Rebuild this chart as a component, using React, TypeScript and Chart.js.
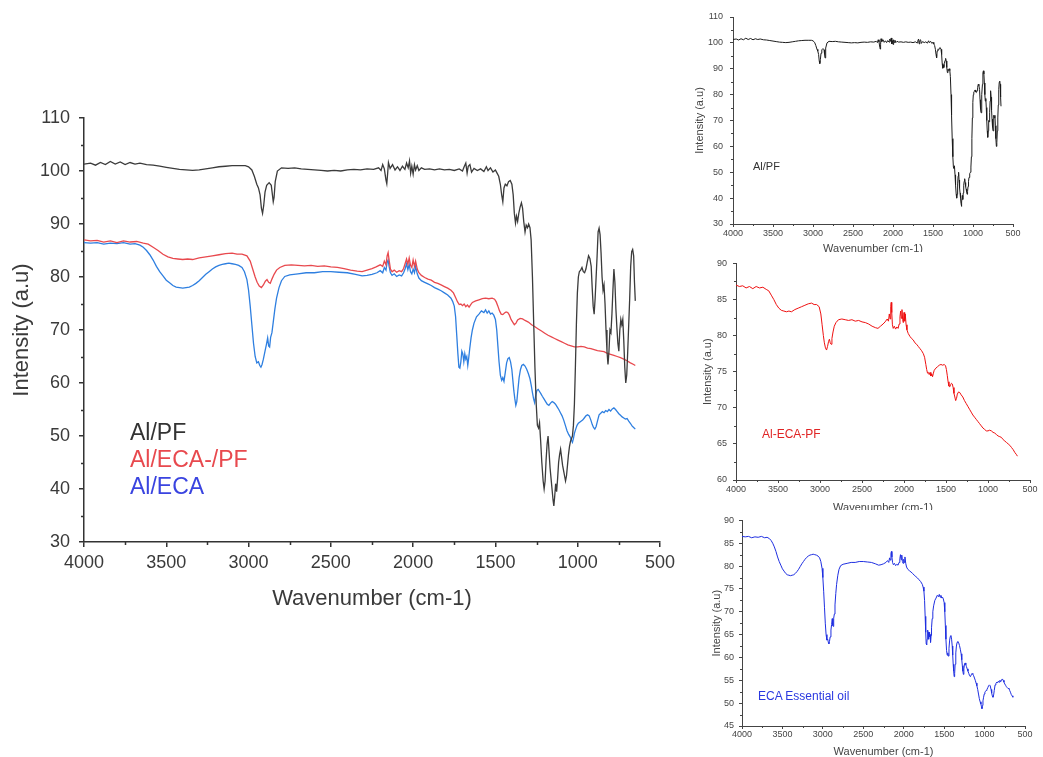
import React, { useEffect, useRef } from 'react';
import { Chart, registerables } from 'chart.js';
Chart.register(...registerables);

// ---------------- DATA ----------------
// [wavenumber (cm-1), intensity (a.u)]
const alPF: [number, number][] = [
  [4000,101.3],[3960,101.5],[3930,101.1],[3900,101.6],[3870,101.2],[3840,101.8],[3810,101.3],[3780,101.7],[3750,101.2],[3720,101.6],[3690,101.3],[3660,101.5],[3620,101.2],[3580,101.1],[3540,100.9],[3500,100.7],[3460,100.5],[3420,100.3],[3380,100.2],[3340,100.1],[3300,100.2],[3260,100.4],[3220,100.6],[3180,100.8],[3140,100.9],[3100,101.0],[3060,101.0],[3020,101.0],[3000,100.8],[2980,100.2],[2965,99],[2950,97.5],[2940,96.8],[2930,95.5],[2922,93],[2915,92],[2908,93.5],[2900,96],[2890,97.3],[2875,97.8],[2862,97.3],[2855,95.5],[2850,94.2],[2845,95],[2838,98],[2825,100],[2800,100.6],[2760,100.5],[2720,100.6],[2680,100.4],[2640,100.3],[2600,100.2],[2560,100.1],[2520,100.0],[2480,100.1],[2440,100.0],[2400,100.2],[2360,100.3],[2320,100.2],[2280,100.4],[2240,100.3],[2210,100.6],[2195,100.1],[2185,101.2],[2175,100.4],[2165,98.3],[2160,97.6],[2155,99.5],[2150,101.6],[2140,100.5],[2125,101.2],[2110,100.2],[2095,100.8],[2080,100.1],[2065,100.9],[2050,100.3],[2040,101.5],[2030,100.6],[2022,101.9],[2015,99.6],[2008,100.9],[2000,99.4],[1992,101.2],[1985,100.2],[1975,101],[1965,100.1],[1950,100.6],[1930,100.3],[1900,100.4],[1870,100.2],[1840,100.4],[1810,100.2],[1780,100.3],[1750,100.1],[1720,100.4],[1700,100.0],[1690,100.8],[1680,101.5],[1672,99.6],[1665,100.9],[1655,101.2],[1645,99.8],[1630,100.5],[1610,100.1],[1590,100.4],[1570,99.9],[1555,100.8],[1545,100.1],[1530,100.6],[1515,99.8],[1500,100.2],[1490,99.6],[1480,99.0],[1470,97.5],[1462,95.5],[1455,94.2],[1448,96.8],[1440,97.5],[1430,97.2],[1420,98.0],[1410,98.2],[1400,97.5],[1392,95.5],[1385,92],[1378,90.2],[1372,91.5],[1365,90.5],[1358,92],[1350,93.2],[1342,94],[1335,93],[1328,90.5],[1320,88.5],[1313,89.8],[1305,89.3],[1298,90],[1290,89.3],[1283,87],[1275,80],[1268,72],[1260,63],[1252,56],[1245,52],[1238,51.5],[1232,52.5],[1225,49],[1218,45],[1210,41.5],[1204,40],[1198,41.5],[1192,45.5],[1186,48.5],[1180,50],[1174,47],[1168,44],[1162,42],[1156,40],[1150,38],[1145,36.8],[1140,38.5],[1134,41],[1128,39.5],[1122,42],[1116,45],[1110,46.5],[1104,47.5],[1098,46],[1092,44.5],[1086,43.5],[1080,42.5],[1074,41.5],[1068,42.5],[1062,44.5],[1056,46.5],[1050,48],[1044,49],[1038,49.5],[1032,50],[1026,52],[1020,56],[1014,63],[1008,71],[1002,77],[996,80],[990,81],[982,81.3],[974,81.8],[966,81],[958,80.8],[950,81.5],[942,82.8],[934,84],[926,83.5],[918,82],[912,78],[906,74.5],[900,73],[894,76],[888,80],[882,84],[876,88.5],[870,89.2],[864,88],[858,84.5],[852,80],[846,77.5],[840,78.5],[834,75],[828,70],[822,66],[816,63.5],[810,66],[804,70],[798,69.5],[792,73],[786,77.5],[780,81.5],[774,79],[768,74],[762,70.5],[756,67.5],[750,66],[744,70],[738,72],[732,71],[726,72],[720,68],[714,63],[708,60],[702,61.5],[696,66],[690,71],[684,76],[678,82],[672,84.8],[666,85.2],[660,84],[655,79],[650,75.5]
];

const alEcaPF: [number, number][] = [
  [4000,87.0],[3960,86.8],[3920,86.9],[3880,86.6],[3840,86.8],[3800,86.5],[3760,86.8],[3720,86.6],[3680,86.7],[3640,86.4],[3610,86.2],[3580,85.6],[3550,85.0],[3520,84.3],[3490,83.8],[3460,83.5],[3430,83.4],[3400,83.3],[3370,83.4],[3340,83.3],[3300,83.6],[3260,83.8],[3220,84.0],[3180,84.2],[3140,84.4],[3100,84.5],[3070,84.3],[3040,84.3],[3010,84.0],[2990,83.0],[2975,81.5],[2960,80.0],[2948,79.0],[2935,78.3],[2922,78.0],[2910,78.5],[2898,79.2],[2888,79.5],[2878,79.0],[2868,78.8],[2858,79.6],[2845,80.5],[2830,81.3],[2810,81.8],[2780,82.2],[2740,82.3],[2700,82.2],[2660,82.1],[2620,82.2],[2580,82.0],[2540,82.1],[2500,81.9],[2460,81.8],[2420,81.6],[2380,81.3],[2340,81.1],[2310,81.0],[2280,81.3],[2250,81.6],[2225,81.9],[2200,82.3],[2185,82.0],[2175,83.0],[2165,82.3],[2158,84.0],[2152,84.6],[2146,83.2],[2138,81.5],[2128,81.0],[2115,81.3],[2100,80.9],[2085,81.2],[2070,81.0],[2058,81.6],[2048,82.6],[2040,83.4],[2032,82.4],[2024,83.6],[2016,82.2],[2008,81.8],[2000,83.2],[1992,82.0],[1985,83.0],[1975,81.5],[1965,80.8],[1950,80.3],[1930,79.9],[1910,79.6],[1890,79.4],[1870,79.0],[1850,78.8],[1830,78.5],[1810,78.2],[1790,77.9],[1770,77.5],[1755,77.0],[1740,76.0],[1730,75.3],[1720,74.8],[1710,74.9],[1700,74.6],[1690,74.9],[1680,74.4],[1670,74.7],[1660,74.3],[1650,74.8],[1640,75.2],[1620,75.5],[1600,75.7],[1580,75.9],[1560,76.0],[1540,75.9],[1520,76.0],[1505,75.8],[1495,75.3],[1485,74.5],[1475,73.6],[1465,73.0],[1455,72.9],[1445,73.2],[1435,73.4],[1425,73.3],[1415,72.8],[1405,72.0],[1395,71.5],[1385,71.0],[1375,71.3],[1365,71.9],[1350,72.2],[1335,72.1],[1320,71.8],[1300,71.5],[1280,71.0],[1260,70.6],[1240,70.2],[1220,69.8],[1200,69.4],[1180,69.0],[1160,68.7],[1140,68.4],[1120,68.1],[1100,67.8],[1080,67.5],[1060,67.2],[1040,67.0],[1020,66.8],[1000,66.8],[980,66.9],[960,66.8],[940,66.6],[920,66.5],[900,66.3],[880,66.1],[860,66.0],[840,65.9],[820,65.6],[800,65.4],[780,65.2],[760,65.0],[740,64.8],[720,64.5],[700,64.2],[680,63.8],[660,63.5],[650,63.3]
];

const alEca: [number, number][] = [
  [4000,86.5],[3960,86.4],[3920,86.5],[3880,86.2],[3840,86.4],[3800,86.3],[3760,86.5],[3720,86.2],[3690,86.3],[3660,86.0],[3640,85.6],[3620,85.0],[3600,84.2],[3580,83.2],[3560,82.0],[3540,81.0],[3520,80.2],[3500,79.4],[3480,78.9],[3460,78.4],[3440,78.1],[3420,78.0],[3400,77.9],[3380,78.0],[3360,78.1],[3340,78.4],[3320,78.8],[3300,79.3],[3280,79.9],[3260,80.5],[3240,81.0],[3220,81.5],[3200,81.9],[3180,82.2],[3160,82.4],[3140,82.5],[3120,82.6],[3100,82.5],[3080,82.4],[3060,82.2],[3040,81.8],[3025,81.0],[3010,79.5],[3000,77.5],[2990,74.5],[2980,71.0],[2970,67.5],[2960,65.0],[2950,63.8],[2940,64.0],[2932,63.3],[2925,63.0],[2918,63.5],[2910,64.5],[2900,66.0],[2892,67.2],[2884,68.5],[2878,67.0],[2872,66.8],[2866,68.6],[2858,69.5],[2850,71.5],[2840,74.0],[2830,76.0],[2815,78.0],[2800,79.3],[2780,80.1],[2750,80.4],[2700,80.6],[2650,80.8],[2600,80.8],[2550,81.0],[2500,81.0],[2450,80.9],[2400,80.8],[2350,80.5],[2310,80.2],[2280,80.3],[2250,80.5],[2220,80.8],[2200,81.2],[2185,80.8],[2175,81.8],[2165,81.3],[2158,82.8],[2152,83.2],[2146,82.0],[2138,80.8],[2128,80.3],[2115,80.6],[2100,80.1],[2085,80.4],[2070,80.2],[2058,80.8],[2048,81.6],[2040,82.5],[2032,81.4],[2024,82.4],[2016,81.0],[2008,80.6],[2000,81.5],[1992,80.8],[1985,82.0],[1975,80.6],[1965,79.8],[1950,79.3],[1930,79.0],[1910,78.7],[1890,78.4],[1870,78.0],[1850,77.7],[1830,77.4],[1810,77.0],[1790,76.6],[1770,76.0],[1760,75.4],[1750,74.5],[1742,72.5],[1735,69.0],[1728,65.5],[1722,63.0],[1716,62.8],[1710,64.0],[1704,66.0],[1698,65.5],[1692,64.0],[1686,65.5],[1680,64.5],[1674,65.0],[1668,63.3],[1662,64.8],[1656,66.5],[1648,68.5],[1640,70.0],[1630,71.3],[1615,72.5],[1600,73.0],[1585,73.6],[1570,73.3],[1560,73.8],[1550,73.2],[1540,73.6],[1530,73.0],[1520,73.2],[1510,72.8],[1500,72.0],[1492,70.0],[1485,67.0],[1478,64.0],[1470,61.5],[1462,60.5],[1455,61.0],[1448,60.3],[1440,62.0],[1432,63.8],[1424,64.6],[1416,64.8],[1408,64.0],[1400,62.5],[1394,60.5],[1388,58.5],[1382,57.0],[1376,55.8],[1370,56.5],[1364,58.5],[1356,61.0],[1348,62.5],[1340,63.3],[1330,63.5],[1320,63.2],[1310,62.6],[1300,61.8],[1290,60.8],[1282,59.5],[1275,58.2],[1268,57.0],[1262,56.3],[1256,57.5],[1248,58.6],[1240,58.8],[1232,58.4],[1224,58.0],[1215,57.5],[1205,57.0],[1195,56.5],[1185,56.0],[1175,55.8],[1165,56.2],[1155,56.5],[1145,56.3],[1135,56.0],[1125,55.5],[1115,55.0],[1105,54.4],[1095,53.8],[1085,53.0],[1075,52.0],[1065,51.0],[1055,50.3],[1045,49.8],[1038,49.2],[1032,48.8],[1026,49.5],[1020,50.5],[1012,51.3],[1004,52.0],[996,52.4],[988,52.6],[980,52.8],[970,53.0],[960,53.4],[950,53.8],[940,54.0],[930,53.8],[920,53.0],[912,52.2],[904,51.6],[896,51.3],[888,51.8],[880,52.8],[870,54.0],[860,54.3],[850,54.6],[840,54.4],[830,54.8],[820,54.6],[810,55.0],[800,54.7],[790,55.1],[780,55.3],[770,55.0],[760,54.6],[750,54.2],[740,53.9],[730,53.6],[720,53.4],[710,53.2],[700,53.3],[690,52.8],[680,52.4],[670,51.9],[660,51.6],[650,51.3]
];

const xTickValues = [4000, 3500, 3000, 2500, 2000, 1500, 1000, 500];
const yTicksPF = [30, 40, 50, 60, 70, 80, 90, 100, 110];
const yTicksEcaPF = [60, 65, 70, 75, 80, 85, 90];
const yTicksEca = [45, 50, 55, 60, 65, 70, 75, 80, 85, 90];

const xTitle = 'Wavenumber (cm-1)';
const yTitle = 'Intensity (a.u)';
const legendLabels = ['Al/PF', 'Al/ECA-/PF', 'Al/ECA'];
const insetLabels = ['Al/PF', 'Al-ECA-PF', 'ECA Essential oil'];

// ---------------- HELPERS ----------------
const FONT = '"Liberation Sans", Arial, Helvetica, sans-serif';

const mids = (arr: number[]) => {
  const out: number[] = [];
  for (let i = 0; i < arr.length - 1; i++) out.push((arr[i] + arr[i + 1]) / 2);
  return out;
};

const minorTickPlugin = {
  id: 'minorTicks',
  afterDraw(chart: any, _args: any, opts: any) {
    const { ctx } = chart;
    const xs = chart.scales.x;
    const ys = chart.scales.y;
    ctx.save();
    ctx.strokeStyle = opts.color;
    ctx.lineWidth = opts.width;
    ctx.beginPath();
    for (const v of opts.xMinor) {
      const px = Math.round(xs.getPixelForValue(v)) + 0.5;
      ctx.moveTo(px, ys.bottom);
      ctx.lineTo(px, ys.bottom + opts.len);
    }
    for (const v of opts.yMinor) {
      const py = Math.round(ys.getPixelForValue(v)) + 0.5;
      ctx.moveTo(xs.left, py);
      ctx.lineTo(xs.left - opts.len, py);
    }
    ctx.stroke();
    ctx.restore();
  },
};

interface Panel {
  left: number; top: number; width: number; height: number;
  padTop: number; padRight: number; yWidth: number; xHeight: number;
  yMin: number; yMax: number; yTicks: number[];
  series: { data: [number, number][]; color: string }[];
  lineWidth: number; axisColor: string; axisWidth: number;
  tickSize: number; tickColor: string; titleSize: number;
  majorLen: number; minorLen: number;
  xTickPad: number; yTickPad: number; xTitlePad: number; yTitlePad: number;
  bg: string;
}

const panels: Panel[] = [
  {
    left: 0, top: 0, width: 680, height: 620,
    padTop: 118, padRight: 18, yWidth: 84, xHeight: 78,
    yMin: 30, yMax: 110, yTicks: yTicksPF,
    series: [
      { data: alPF, color: '#3b3b3b' },
      { data: alEcaPF, color: '#e8494e' },
      { data: alEca, color: '#2e7fe0' },
    ],
    lineWidth: 1.3, axisColor: '#333', axisWidth: 1.5,
    tickSize: 18, tickColor: '#3a3a3a', titleSize: 22,
    majorLen: 5, minorLen: 3,
    xTickPad: 5, yTickPad: 9, xTitlePad: 8, yTitlePad: 9,
    bg: 'transparent',
  },
  {
    left: 680, top: 0, width: 363, height: 256,
    padTop: 17, padRight: 30, yWidth: 53, xHeight: 32,
    yMin: 30, yMax: 110, yTicks: yTicksPF,
    series: [{ data: alPF, color: '#1c1c1c' }],
    lineWidth: 1, axisColor: '#444', axisWidth: 1,
    tickSize: 9, tickColor: '#444', titleSize: 11,
    majorLen: 3, minorLen: 2,
    xTickPad: 1, yTickPad: 7, xTitlePad: 0.4, yTitlePad: 13.4,
    bg: 'transparent',
  },
  {
    left: 680, top: 252, width: 363, height: 263,
    padTop: 10, padRight: 13, yWidth: 56, xHeight: 35,
    yMin: 60, yMax: 90, yTicks: yTicksEcaPF,
    series: [{ data: alEcaPF, color: '#ee1111' }],
    lineWidth: 1, axisColor: '#444', axisWidth: 1,
    tickSize: 9, tickColor: '#444', titleSize: 11,
    majorLen: 3, minorLen: 2,
    xTickPad: 1.6, yTickPad: 6, xTitlePad: 0.4, yTitlePad: 21.4,
    bg: '#ffffff',
  },
  {
    left: 680, top: 510, width: 363, height: 247,
    padTop: 7, padRight: 18, yWidth: 62, xHeight: 31,
    yMin: 45, yMax: 90, yTicks: yTicksEca,
    series: [{ data: alEca, color: '#1f2fe0' }],
    lineWidth: 1, axisColor: '#444', axisWidth: 1,
    tickSize: 9, tickColor: '#444', titleSize: 11,
    majorLen: 3, minorLen: 2,
    xTickPad: 0.6, yTickPad: 5, xTitlePad: -1.5, yTitlePad: 30.4,
    bg: '#ffffff',
  },
];

function buildChart(canvas: HTMLCanvasElement, p: Panel) {
  return new Chart(canvas, {
    type: 'line',
    data: {
      datasets: p.series.map((s) => ({
        data: s.data.map(([x, y]) => ({ x, y })),
        borderColor: s.color,
        borderWidth: p.lineWidth,
        pointRadius: 0,
        fill: false,
        tension: 0,
      })),
    },
    options: {
      responsive: false,
      animation: false,
      events: [],
      layout: { padding: { top: p.padTop, right: p.padRight, left: 0, bottom: 0 } },
      plugins: {
        legend: { display: false },
        tooltip: { enabled: false },
        minorTicks: {
          xMinor: mids(xTickValues),
          yMinor: mids(p.yTicks),
          len: p.minorLen,
          color: p.axisColor,
          width: p.axisWidth,
        },
      } as any,
      scales: {
        x: {
          type: 'linear',
          reverse: true,
          min: 500,
          max: 4000,
          afterFit: (s: any) => { s.height = p.xHeight; },
          afterBuildTicks: (s: any) => { s.ticks = xTickValues.map((v) => ({ value: v })); },
          ticks: {
            autoSkip: false,
            maxRotation: 0,
            padding: p.xTickPad,
            color: p.tickColor,
            font: { family: FONT, size: p.tickSize },
            callback: (v: any) => String(v),
          },
          grid: {
            drawOnChartArea: false,
            drawTicks: true,
            tickLength: p.majorLen,
            color: p.axisColor,
            lineWidth: p.axisWidth,
          },
          border: { display: true, color: p.axisColor, width: p.axisWidth },
          title: {
            display: true,
            text: xTitle,
            color: p.tickColor,
            font: { family: FONT, size: p.titleSize },
            padding: { top: 0, bottom: p.xTitlePad },
          },
        },
        y: {
          type: 'linear',
          min: p.yMin,
          max: p.yMax,
          afterFit: (s: any) => { s.width = p.yWidth; },
          afterBuildTicks: (s: any) => { s.ticks = p.yTicks.map((v) => ({ value: v })); },
          ticks: {
            autoSkip: false,
            padding: p.yTickPad,
            color: p.tickColor,
            font: { family: FONT, size: p.tickSize },
            callback: (v: any) => String(v),
          },
          grid: {
            drawOnChartArea: false,
            drawTicks: true,
            tickLength: p.majorLen,
            color: p.axisColor,
            lineWidth: p.axisWidth,
          },
          border: { display: true, color: p.axisColor, width: p.axisWidth },
          title: {
            display: true,
            text: yTitle,
            color: p.tickColor,
            font: { family: FONT, size: p.titleSize },
            padding: { top: p.yTitlePad, bottom: 0 },
          },
        },
      },
    } as any,
    plugins: [minorTickPlugin],
  });
}

const labelStyle = (left: number, centerY: number, size: number, color: string): React.CSSProperties => ({
  position: 'absolute',
  left,
  top: centerY - size * 0.55,
  fontFamily: FONT,
  fontSize: size,
  lineHeight: 1.1,
  color,
  whiteSpace: 'nowrap',
});

export default function App() {
  const refs = useRef<(HTMLCanvasElement | null)[]>([]);

  useEffect(() => {
    const charts = panels.map((p, i) => buildChart(refs.current[i] as HTMLCanvasElement, p));
    return () => charts.forEach((c) => c.destroy());
  }, []);

  return (
    <div>
      {panels.map((p, i) => (
        <div
          key={i}
          style={{ position: 'absolute', left: p.left, top: p.top, width: p.width, height: p.height, background: p.bg }}
        >
          <canvas
            ref={(el) => { refs.current[i] = el; }}
            width={p.width}
            height={p.height}
            style={{ display: 'block', width: p.width, height: p.height }}
          />
        </div>
      ))}
      <div style={labelStyle(130, 433, 23, '#333333')}>{legendLabels[0]}</div>
      <div style={labelStyle(130, 460, 23, '#e8494e')}>{legendLabels[1]}</div>
      <div style={labelStyle(130, 487, 23, '#3a44e0')}>{legendLabels[2]}</div>
      <div style={labelStyle(753, 166, 11, '#333333')}>{insetLabels[0]}</div>
      <div style={labelStyle(762, 435, 12, '#e02424')}>{insetLabels[1]}</div>
      <div style={labelStyle(758, 697, 12, '#2a38e0')}>{insetLabels[2]}</div>
    </div>
  );
}
